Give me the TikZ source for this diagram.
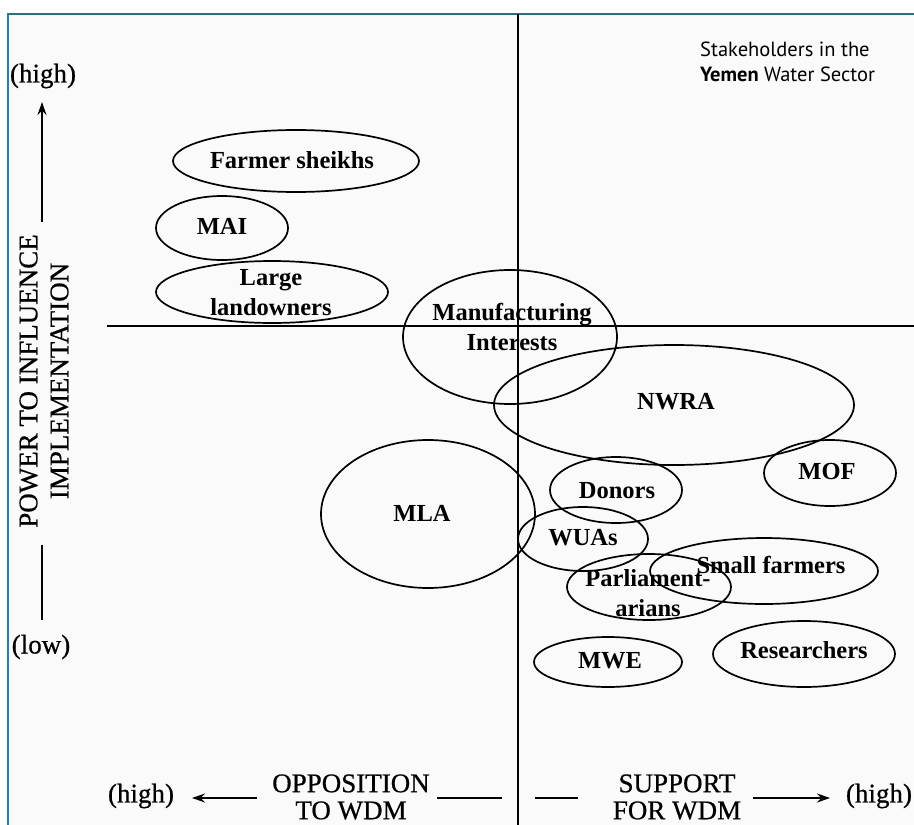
\documentclass[tikz,border=0pt]{standalone}
\usepackage{fontspec}
\setmainfont{Liberation Serif}
\newfontfamily\axfont[FakeBold=0.6]{Liberation Serif}
\newfontfamily\titlefont{PT Sans}
\usetikzlibrary{shapes.geometric,arrows.meta}
\definecolor{topline}{RGB}{44,110,126}
\definecolor{leftline}{RGB}{30,125,205}
\definecolor{bgc}{RGB}{250,250,250}
\begin{document}
\begin{tikzpicture}[x=1pt,y=-1pt,
  oval/.style={draw, ellipse, line width=1.7pt, inner sep=0pt, outer sep=0pt},
  lab/.style={font=\fontsize{24.5}{30}\selectfont\bfseries, align=center, inner sep=0pt},
  axl/.style={font=\axfont\fontsize{27}{27}\selectfont, align=center, inner sep=0pt},
  axisline/.style={line width=1.7pt},
  arr/.style={line width=1.8pt, -{Stealth[length=13pt,width=9pt]}},
  plain line/.style={line width=1.8pt}]
\useasboundingbox (0,0) rectangle (914,825);
\fill[white] (0,0) rectangle (914,825);
\fill[bgc] (8,14) rectangle (914,825);
% frame
\coordinate (ftl) at (7,14);
\coordinate (ftr) at (914,14);
\coordinate (fbl) at (8,825);
\draw[topline, line width=2pt] (ftl) -- (ftr);
\draw[leftline, line width=2.5pt] (8,14) -- (fbl);
% axes
\coordinate (vtop) at (518,14);
\coordinate (vbot) at (518,825);
\coordinate (hleft) at (107,326);
\coordinate (hright) at (914,326);
\draw[axisline] (vtop) -- (vbot);
\draw[axisline] (hleft) -- (hright);
% title
\node[anchor=west, align=left, inner sep=0pt, font=\titlefont\fontsize{20.5}{25}\selectfont] (title) at (700,62) {Stakeholders in the\\\textbf{Yemen} Water Sector};
% vertical axis labels
\node[axl] (vhigh) at (43,76) {(high)};
\node[axl] (vlow) at (41,647) {(low)};
\node[axl, rotate=90, font=\axfont\fontsize{27}{31}\selectfont] (vlab) at (44,381) {POWER TO INFLUENCE\\IMPLEMENTATION};
\coordinate (vup0) at (42,222);
\coordinate (vup1) at (42,102);
\coordinate (vdn0) at (42,545);
\coordinate (vdn1) at (42,620);
\draw[arr] (vup0) -- (vup1);
\draw[plain line] (vdn0) -- (vdn1);
% horizontal axis labels
\node[axl] (hlhigh) at (141,796) {(high)};
\node[axl] (hopp) at (351,797) {OPPOSITION\\TO WDM};
\node[axl] (hsup) at (677,797) {SUPPORT\\FOR WDM};
\node[axl] (hrhigh) at (879,796) {(high)};
\coordinate (la0) at (257,798);
\coordinate (la1) at (192,798);
\coordinate (lb0) at (437,798);
\coordinate (lb1) at (502,798);
\coordinate (ra0) at (535,798);
\coordinate (ra1) at (578,798);
\coordinate (rb0) at (753,798);
\coordinate (rb1) at (830,798);
\draw[arr] (la0) -- (la1);
\draw[plain line] (lb0) -- (lb1);
\draw[plain line] (ra0) -- (ra1);
\draw[arr] (rb0) -- (rb1);
% stakeholder ellipses
\node[oval, minimum width=246pt, minimum height=62pt] (fs) at (296,161) {};
\node[oval, minimum width=132pt, minimum height=64pt] (mai) at (222,228) {};
\node[oval, minimum width=232pt, minimum height=62pt] (ll) at (272,292) {};
\node[oval, minimum width=214pt, minimum height=134pt] (mi) at (510,337) {};
\node[oval, minimum width=360pt, minimum height=120pt] (nwra) at (674,405) {};
\node[oval, minimum width=132pt, minimum height=66pt] (mof) at (830,473) {};
\node[oval, minimum width=132pt, minimum height=66pt] (don) at (616,490) {};
\node[oval, minimum width=214pt, minimum height=148pt] (mla) at (428,514) {};
\node[oval, minimum width=130pt, minimum height=64pt] (wua) at (583,539) {};
\node[oval, minimum width=228pt, minimum height=66pt] (sf) at (764,571) {};
\node[oval, minimum width=164pt, minimum height=66pt] (par) at (649,587) {};
\node[oval, minimum width=148pt, minimum height=50pt] (mwe) at (608,662) {};
\node[oval, minimum width=182pt, minimum height=66pt] (res) at (804,654) {};
% stakeholder labels
\node[lab] (fst) at (292,160) {Farmer sheikhs};
\node[lab] (mait) at (222,226) {MAI};
\node[lab] (llt) at (271,293) {Large\\landowners};
\node[lab] (mit) at (512,327) {Manufacturing\\Interests};
\node[lab] (nwrat) at (676,402) {NWRA};
\node[lab] (moft) at (827,472) {MOF};
\node[lab] (dont) at (617,491) {Donors};
\node[lab] (mlat) at (422,513) {MLA};
\node[lab] (wuat) at (583,538) {WUAs};
\node[lab] (sft) at (771,565) {Small farmers};
\node[lab] (part) at (648,593) {Parliament-\\arians};
\node[lab] (mwet) at (610,661) {MWE};
\node[lab] (rest) at (804,650) {Researchers};
\end{tikzpicture}
\end{document}
